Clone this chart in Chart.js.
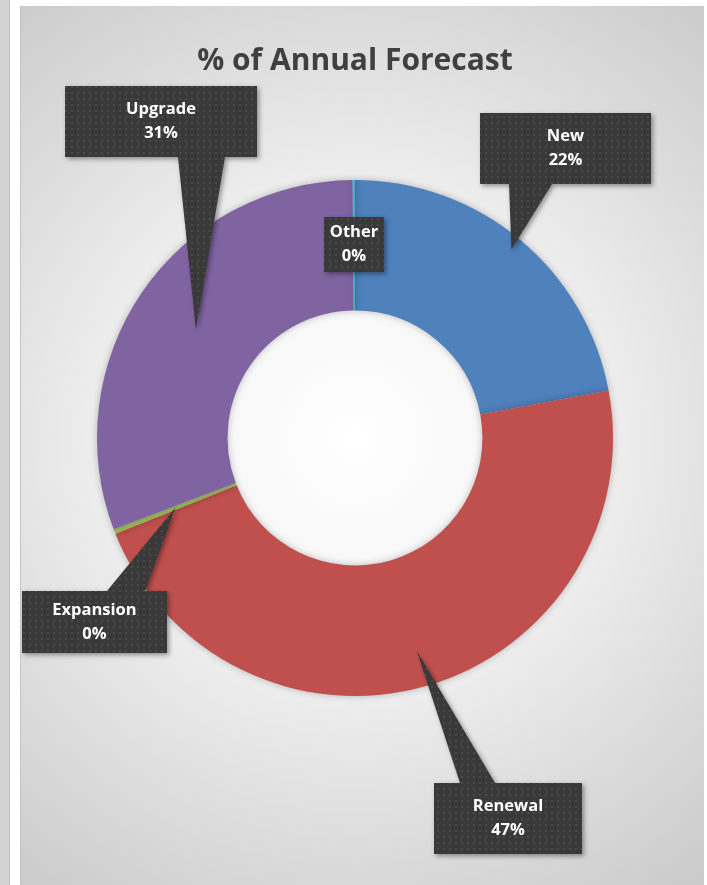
<!DOCTYPE html>
<html>
<head>
<meta charset="utf-8">
<script src="https://cdn.jsdelivr.net/npm/chart.js@4.4.1/dist/chart.umd.min.js"></script>
<style>
  html, body { margin: 0; padding: 0; background: #fff; }
  body { width: 707px; height: 885px; position: relative; overflow: hidden; }
  #strip { position: absolute; left: 0; top: 0; width: 9px; height: 885px; background: #d2d2d2; border-right: 1px solid #c2c2c2; }
  #edge { position: absolute; left: 20px; top: 6px; width: 1px; height: 879px; background: #c4c4c4; }
  #wrap { position: absolute; left: 21px; top: 6px; width: 683px; height: 879px; }
</style>
</head>
<body>
<div id="strip"></div>
<div id="edge"></div>
<div id="wrap"><canvas id="forecast-canvas" width="683" height="879"></canvas></div>
<script>
const categories = ['New', 'Renewal', 'Expansion', 'Upgrade', 'Other'];
const shareValues = [22.05, 46.9, 0.3, 30.6, 0.15];
const sliceColors = ['#4f81bd', '#c0504d', '#9bbb59', '#8064a2', '#4bacc6'];

// callout boxes (canvas px), pointer base on top/bottom edge, tip depth inside the ring (0 inner .. 1 outer)
const callouts = [
  { box: [459, 107, 171, 71], side: 'bottom', base: [488, 531], depth: 0.90 },
  { box: [413, 777, 148, 71], side: 'top', base: [439, 474], depth: 0.72 },
  { box: [1, 585, 145, 62], side: 'top', base: [86, 124], depth: 0.5 },
  { box: [44, 80, 192, 71], side: 'bottom', base: [157, 204], depth: 0.5 },
  { box: [303, 211, 60, 55], side: null, base: null, depth: 0.5 }
];

function dotPattern(ctx) {
  const c = document.createElement('canvas');
  c.width = 6; c.height = 6;
  const p = c.getContext('2d');
  p.fillStyle = '#393939';
  p.fillRect(0, 0, 6, 6);
  p.fillStyle = '#4a4a4a';
  p.fillRect(2, 2, 2, 2);
  return ctx.createPattern(c, 'repeat');
}

const backdrop = {
  id: 'backdrop',
  beforeDraw(chart) {
    const { ctx, width, height } = chart;
    const meta = chart.getDatasetMeta(0);
    const cx = meta.data[0].x, cy = meta.data[0].y;
    const g = ctx.createRadialGradient(cx, cy, 0, cx, cy, 600);
    g.addColorStop(0, '#ffffff');
    g.addColorStop(0.35, '#f3f3f3');
    g.addColorStop(0.65, '#dedede');
    g.addColorStop(1, '#c6c6c6');
    ctx.save();
    ctx.fillStyle = g;
    ctx.fillRect(0, 0, width, height);
    ctx.restore();
  },
  beforeDatasetsDraw(chart) {
    const ctx = chart.ctx;
    ctx.save();
    ctx.shadowColor = 'rgba(0,0,0,0.25)';
    ctx.shadowBlur = 7;
  },
  afterDatasetsDraw(chart) {
    chart.ctx.restore();
  }
};

const calloutLabels = {
  id: 'calloutLabels',
  afterDraw(chart) {
    const { ctx } = chart;
    const meta = chart.getDatasetMeta(0);
    const values = chart.data.datasets[0].data;
    const total = values.reduce((a, b) => a + b, 0);
    const fill = dotPattern(ctx);
    meta.data.forEach((arc, i) => {
      const c = callouts[i];
      const { x, y, startAngle, endAngle, innerRadius, outerRadius } =
        arc.getProps(['x', 'y', 'startAngle', 'endAngle', 'innerRadius', 'outerRadius'], true);
      const mid = (startAngle + endAngle) / 2;
      const r = innerRadius + (outerRadius - innerRadius) * c.depth;
      const tx = x + Math.cos(mid) * r, ty = y + Math.sin(mid) * r;
      const [bx, by, bw, bh] = c.box;
      ctx.save();
      ctx.beginPath();
      if (c.side === 'bottom') {
        ctx.moveTo(bx, by); ctx.lineTo(bx + bw, by); ctx.lineTo(bx + bw, by + bh);
        ctx.lineTo(c.base[1], by + bh); ctx.lineTo(tx, ty); ctx.lineTo(c.base[0], by + bh);
        ctx.lineTo(bx, by + bh);
      } else if (c.side === 'top') {
        ctx.moveTo(bx, by); ctx.lineTo(c.base[0], by); ctx.lineTo(tx, ty); ctx.lineTo(c.base[1], by);
        ctx.lineTo(bx + bw, by); ctx.lineTo(bx + bw, by + bh); ctx.lineTo(bx, by + bh);
      } else {
        ctx.rect(bx, by, bw, bh);
      }
      ctx.closePath();
      ctx.shadowColor = 'rgba(0,0,0,0.4)';
      ctx.shadowBlur = 5;
      ctx.shadowOffsetX = 2;
      ctx.shadowOffsetY = 2;
      ctx.fillStyle = fill;
      ctx.fill();
      ctx.restore();

      ctx.save();
      ctx.fillStyle = '#ffffff';
      ctx.font = 'bold 16.5px "Open Sans"';
      ctx.textAlign = 'center';
      ctx.textBaseline = 'middle';
      const cxText = bx + bw / 2, cyText = by + bh / 2;
      ctx.fillText(chart.data.labels[i], cxText, cyText - 12);
      ctx.fillText(Math.round(values[i] / total * 100) + '%', cxText, cyText + 12);
      ctx.restore();
    });
  }
};

const data = {
  labels: categories,
  datasets: [{
    data: shareValues,
    backgroundColor: sliceColors,
    borderWidth: 0
  }]
};

const config = {
  type: 'doughnut',
  data,
  options: {
    responsive: false,
    animation: false,
    cutout: '49.4%',
    layout: {
      padding: { left: 76, right: 91, top: 0, bottom: 189 }
    },
    plugins: {
      legend: { display: false },
      tooltip: { enabled: false },
      title: {
        display: true,
        text: '% of Annual Forecast',
        color: '#404040',
        font: { family: 'Open Sans', size: 30, weight: 'bold' },
        padding: { top: 37, bottom: 101 }
      }
    }
  },
  plugins: [backdrop, calloutLabels]
};

const forecastChart = new Chart(document.getElementById('forecast-canvas'), config);
</script>
</body>
</html>
